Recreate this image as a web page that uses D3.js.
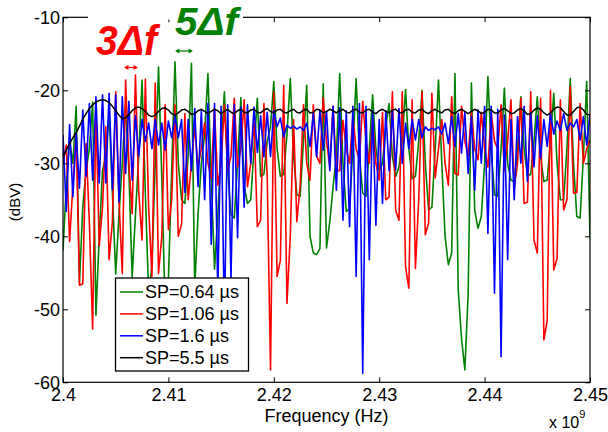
<!DOCTYPE html>
<html><head><meta charset="utf-8">
<script src="https://cdn.jsdelivr.net/npm/d3@7"></script>
<style>body{margin:0;background:#fff}svg{display:block}</style>
</head><body><svg id="c" width="608" height="432"></svg>
<script>
// Frequency grid (GHz, axis shows x 10^9)
const freqStartGHz = 2.4, freqStepGHz = 0.0003125, nPts = 161;
const xTicks = [2.4, 2.41, 2.42, 2.43, 2.44, 2.45];
const yTicks = [-60, -50, -40, -30, -20, -10];
const seriesNames = ["SP=0.64 \u00b5s", "SP=1.06 \u00b5s", "SP=1.6 \u00b5s", "SP=5.5 \u00b5s"];

const sp064 = [-42,-33,-27,-30,-22.2,-46.4,-36,-31,-28,-21.6,
-50.8,-40,-31,-29,-23,-34,-45.2,-37,-30,-22,
-31,-45.6,-37,-29,-18.6,-34,-48,-44,-30,-16.8,
-32,-50,-46,-31,-16.1,-30,-35,-35.5,-29,-16.3,
-47,-37,-30,-26,-17.7,-32,-44.5,-37,-28,-20.2,
-31,-37,-37.5,-30,-21,-33,-35.5,-35,-28,-21.1,
-31.8,-31.5,-27,-25,-18.8,-28,-31.8,-31.5,-26,-18.4,
-29,-34.3,-34.5,-27,-19.3,-40,-42.3,-42.5,-41.7,-19.1,
-41.6,-38,-33.2,-29,-17.7,-30,-36.6,-36.2,-28,-18.4,
-29,-34.1,-34.5,-28,-20.6,-28,-31,-30,-25,-21.8,
-29,-31.8,-30.5,-27,-19.9,-28,-32.1,-31.8,-27,-20,
-30,-36.4,-36,-28,-18.6,-30,-40,-43.9,-42.3,-17.7,
-47.4,-54,-58.3,-48,-19,-36.4,-38.9,-37.3,-30,-18.1,
-28,-34.3,-34.5,-28,-19.7,-30,-32.3,-32.5,-28,-20.9,
-28,-31.8,-31.5,-27,-20.9,-29,-32.5,-32.3,-27,-20.4,
-30,-35,-35,-28,-18.4,-30,-37.3,-37.5,-29,-18.8,
-40.3];

const sp106 = [-30,-27.5,-40.7,-33,-26,-46.7,-46.5,-27.3,-38,-52.7,
-22.7,-41.3,-36,-25,-43.2,-38,-20.2,-35,-45.1,-18.6,
-30,-36.9,-17.9,-34,-40.5,-18.5,-36,-45.5,-19,-45.1,
-40,-22,-39.1,-35,-22,-40,-38.3,-23.2,-35,-30,
-25,-30.5,-28,-24.5,-30,-32,-22.5,-33,-30,-22,
-31,-29,-21.1,-30.5,-28,-21.3,-33.2,-30,-24,-38.7,
-37.8,-21.8,-31.8,-58.3,-20.2,-45.5,-43.3,-19.3,-49.2,-40,
-24,-38,-33,-22,-30,-32.3,-22,-29,-30,-21,
-27,-30.5,-22.2,-31,-31,-24.1,-28,-30,-23.6,-28,
-29.5,-21.5,-27,-30,-24,-30,-32.3,-23,-35,-34.6,
-20.2,-36.4,-37.8,-20.2,-44.2,-47.1,-21.3,-44.4,-35,-20.2,
-39.8,-38.2,-20.4,-32,-28,-24,-30,-33,-20.9,-31.4,
-31.6,-22.2,-27,-29,-23,-28,-29.5,-23,-28,-30.5,
-23,-27,-28,-22,-31,-27,-21.3,-33.4,-30,-21.1,
-35.5,-35.3,-20.2,-40.5,-42.3,-21.1,-54.2,-51.5,-20,-44.6,
-43,-21.3,-36.4,-35,-19.5,-34.1,-34,-21.8,-30,-28,
-26.8];

const sp16 = [-26.1,-36.6,-24.7,-34.6,-25.9,-33.4,-22.7,-31.8,-21.8,-32.3,
-20.9,-32.7,-20.6,-32.7,-20.4,-33.6,-20.6,-35.3,-20.9,-31.4,
-21.5,-32.3,-23.5,-29,-24,-27,-24.5,-28,-24,-27.5,
-24.5,-28.2,-24.2,-26.5,-23.5,-26.5,-24,-34,-24,-31,
-22.5,-33.2,-22.8,-35,-21.8,-41.1,-21.8,-48,-22.2,-52,
-22,-46,-22,-40.2,-22.3,-36,-22,-30,-22.3,-28.5,
-23.5,-29.1,-23,-29.1,-22.8,-25,-23.8,-26.4,-24.8,-25.2,
-24.9,-25.3,-25,-25.5,-24.5,-27.7,-23.2,-29.1,-22.8,-28.2,
-22.9,-31,-22.2,-33.7,-22.4,-37.8,-22.8,-38.7,-22.2,-45.5,
-21.8,-58.8,-22.2,-43.2,-22.8,-38.5,-24,-35.5,-22.8,-31,
-22.8,-30.9,-22.5,-30,-24.5,-28,-24,-26.8,-24,-26.5,
-25,-25.5,-25.2,-25.4,-25,-26,-24.5,-27.3,-23.6,-27.7,
-23.2,-28.6,-23,-31.4,-23.6,-33.7,-22.7,-30,-22.2,-39.6,
-22.2,-47.8,-22.6,-56.5,-23.4,-43.2,-24,-35,-23.6,-30,
-22.2,-32.5,-23,-30.5,-23.5,-29.3,-24,-27.7,-23.2,-26,
-24.2,-25.5,-23.2,-25.5,-24.5,-25,-24,-26.8,-23.6,-27.5,
-23.2];

const sp55 = [-29.1,-28.2,-27.3,-26.5,-25.8,-24.9,-24,-23.2,-22.5,-22,
-21.6,-21.4,-21.3,-21.4,-21.7,-22.2,-22.8,-23.4,-23.9,-23.8,
-23.3,-22.8,-22.4,-22.3,-22.5,-22.9,-23.4,-23.6,-23.4,-22.9,
-22.5,-22.4,-22.7,-23.2,-23.4,-23.1,-22.7,-22.6,-22.9,-23.3,
-23.2,-22.8,-22.6,-22.9,-23.2,-22.9,-22.6,-22.8,-23.2,-22.9,
-22.6,-23,-23.2,-22.8,-22.6,-23,-23.1,-22.7,-22.6,-23,
-23.1,-22.7,-22.5,-22.9,-23.1,-22.7,-22.6,-23,-23.1,-22.8,
-22.6,-23,-23.1,-22.7,-22.6,-23.1,-23,-22.6,-22.7,-23.1,
-22.9,-22.6,-22.8,-23.1,-22.8,-22.6,-23,-23.1,-22.7,-22.6,
-23,-23.1,-22.7,-22.6,-23,-23.2,-22.8,-22.6,-22.9,-23.1,
-22.7,-22.6,-23,-23.1,-22.7,-22.6,-23,-23.1,-22.7,-22.6,
-23,-23.2,-22.8,-22.6,-22.9,-23.1,-22.7,-22.6,-23,-23.2,
-22.8,-22.6,-22.9,-23.2,-22.9,-22.6,-22.8,-23.2,-23,-22.6,
-22.7,-23.1,-23.1,-22.7,-22.5,-22.8,-23.2,-23.1,-22.7,-22.5,
-22.8,-23.3,-23.2,-22.7,-22.4,-22.6,-23.1,-23.4,-23.1,-22.6,
-22.3,-22.4,-22.9,-23.4,-23.4,-22.9,-22.4,-22.3,-22.7,-23.3,
-23.4];

const seriesValues = [sp064, sp106, sp16, sp55];
const colors = ["#008000", "#ff0000", "#0000ff", "#000000"];
const FONT = "'Liberation Sans', Arial, Helvetica, sans-serif";

const freqs = d3.range(nPts).map(i => freqStartGHz + i * freqStepGHz);

const L = 63, R = 590, T = 17.3, B = 382.3;
const x = d3.scaleLinear().domain([2.4, 2.45]).range([L, R]);
const y = d3.scaleLinear().domain([-60, -10]).range([B, T]);

const svg = d3.select("#c");
svg.append("rect").attr("width", 608).attr("height", 432).attr("fill", "#fff");

svg.append("defs").append("clipPath").attr("id", "clip")
  .append("rect").attr("x", L).attr("y", T).attr("width", R - L).attr("height", B - T);

const line = d3.line().x((d, i) => x(freqs[i])).y(d => y(d));
const plot = svg.append("g").attr("clip-path", "url(#clip)");
seriesValues.forEach((vals, k) => {
  plot.append("path").datum(vals)
    .attr("fill", "none").attr("stroke", colors[k])
    .attr("stroke-width", k === 3 ? 1.5 : 1.6)
    .attr("stroke-linejoin", "round")
    .attr("d", line);
});

// Axes
function styleAxis(g) {
  g.select(".domain").remove();
  g.selectAll("line").attr("stroke", "#000").attr("stroke-width", 1);
  g.selectAll("text").attr("font-family", FONT).attr("font-size", 18).attr("fill", "#000");
}
svg.append("g").attr("transform", `translate(0,${B})`)
  .call(d3.axisBottom(x).tickValues(xTicks).tickSize(-5).tickPadding(6)
    .tickFormat(d => String(+d.toFixed(2))))
  .call(styleAxis);
svg.append("g").attr("transform", `translate(0,${T})`)
  .call(d3.axisTop(x).tickValues(xTicks).tickSize(-5).tickFormat(""))
  .call(styleAxis);
svg.append("g").attr("transform", `translate(${L},0)`)
  .call(d3.axisLeft(y).tickValues(yTicks).tickSize(-5).tickPadding(3)
    .tickFormat(d => String(d)))
  .call(styleAxis);
svg.append("g").attr("transform", `translate(${R},0)`)
  .call(d3.axisRight(y).tickValues(yTicks).tickSize(-5).tickFormat(""))
  .call(styleAxis);

// frame
svg.append("rect").attr("x", L).attr("y", T).attr("width", R - L).attr("height", B - T)
  .attr("fill", "none").attr("stroke", "#000").attr("stroke-width", 1.2);

// gap in the top frame behind the annotations
svg.append("rect").attr("x", 88).attr("y", 14).attr("width", 155).attr("height", 5.5).attr("fill", "#fff");

// axis labels
svg.append("text").attr("x", (L + R) / 2).attr("y", 421.5).attr("text-anchor", "middle")
  .attr("font-family", FONT).attr("font-size", 18).text("Frequency (Hz)");
svg.append("text").attr("transform", "translate(20,202) rotate(-90)").attr("text-anchor", "middle")
  .attr("font-family", FONT).attr("font-size", 15).text("(dBV)");
const mult = svg.append("text").attr("x", 549).attr("y", 428)
  .attr("font-family", FONT).attr("font-size", 16);
mult.append("tspan").text("x 10");
mult.append("tspan").attr("font-size", 11).attr("dy", -10).text("9");

// annotations
svg.append("text").attr("x", 96).attr("y", 55).attr("fill", "#ff0000")
  .attr("font-family", FONT).attr("font-weight", "bold").attr("font-style", "italic")
  .attr("font-size", 42).attr("textLength", 61).attr("lengthAdjust", "spacingAndGlyphs").text("3\u0394f");
svg.append("text").attr("x", 175).attr("y", 35).attr("fill", "#008000")
  .attr("font-family", FONT).attr("font-weight", "bold").attr("font-style", "italic")
  .attr("font-size", 39).attr("textLength", 63).attr("lengthAdjust", "spacingAndGlyphs").text("5\u0394f");

function dblArrow(x1, x2, yy, col) {
  const h = 4.5, w = 2.6;
  svg.append("line").attr("x1", x1 + h).attr("x2", x2 - h).attr("y1", yy).attr("y2", yy)
    .attr("stroke", col).attr("stroke-width", 1.3);
  svg.append("path").attr("fill", col)
    .attr("d", `M${x1},${yy}L${x1 + h},${yy - w}L${x1 + h},${yy + w}Z M${x2},${yy}L${x2 - h},${yy - w}L${x2 - h},${yy + w}Z`);
}
dblArrow(124, 138, 67.5, "#ff0000");
dblArrow(175, 193, 51, "#008000");

// legend
const lg = svg.append("g");
lg.append("rect").attr("x", 115.5).attr("y", 278).attr("width", 133).attr("height", 93)
  .attr("fill", "#fff").attr("stroke", "#000").attr("stroke-width", 1.3);
seriesNames.forEach((name, k) => {
  const yy = 292 + k * 21.9;
  lg.append("line").attr("x1", 120).attr("x2", 143).attr("y1", yy).attr("y2", yy)
    .attr("stroke", colors[k]).attr("stroke-width", 1.5);
  lg.append("text").attr("x", 145).attr("y", yy + 6).attr("font-family", FONT)
    .attr("font-size", 18).text(name);
});
</script></body></html>
